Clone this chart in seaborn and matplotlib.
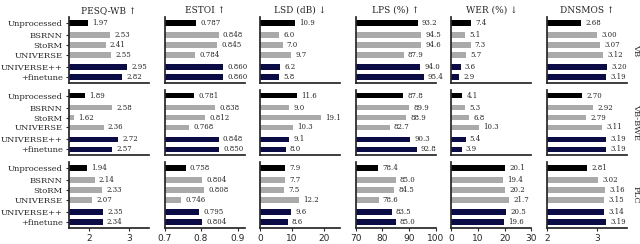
import matplotlib
matplotlib.use("Agg")
import matplotlib.pyplot as plt
import seaborn as sns
import pandas as pd

methods = ["Unprocessed", "BSRNN", "StoRM", "UNIVERSE", "UNIVERSE++", "+finetune"]
datasets = ["VB", "VB-BWE", "PLC"]
metrics = ["PESQ-WB ↑", "ESTOI ↑", "LSD (dB) ↓", "LPS (%) ↑", "WER (%) ↓", "DNSMOS ↑"]

pesq = {"VB": [1.97, 2.53, 2.41, 2.55, 2.95, 2.82],
        "VB-BWE": [1.89, 2.58, 1.62, 2.36, 2.72, 2.57],
        "PLC": [1.94, 2.14, 2.33, 2.07, 2.35, 2.34]}
estoi = {"VB": [0.787, 0.848, 0.845, 0.784, 0.860, 0.860],
         "VB-BWE": [0.781, 0.838, 0.812, 0.768, 0.848, 0.850],
         "PLC": [0.758, 0.804, 0.808, 0.746, 0.795, 0.804]}
lsd = {"VB": [10.9, 6.0, 7.0, 9.7, 6.2, 5.8],
       "VB-BWE": [11.6, 9.0, 19.1, 10.3, 9.1, 8.0],
       "PLC": [7.9, 7.7, 7.5, 12.2, 9.6, 8.6]}
lps = {"VB": [93.2, 94.5, 94.6, 87.9, 94.0, 95.4],
       "VB-BWE": [87.8, 89.9, 88.9, 82.7, 90.3, 92.8],
       "PLC": [78.4, 85.0, 84.5, 78.6, 83.5, 85.0]}
wer = {"VB": [7.4, 5.1, 7.3, 5.7, 3.6, 2.9],
       "VB-BWE": [4.1, 5.3, 6.8, 10.3, 5.4, 3.9],
       "PLC": [20.1, 19.4, 20.2, 21.7, 20.5, 19.6]}
dnsmos = {"VB": [2.68, 3.00, 3.07, 3.12, 3.20, 3.19],
          "VB-BWE": [2.70, 2.92, 2.79, 3.11, 3.19, 3.19],
          "PLC": [2.81, 3.02, 3.16, 3.15, 3.14, 3.19]}

all_values = [pesq, estoi, lsd, lps, wer, dnsmos]
fmts = ["{:.2f}", "{:.3f}", "{:.1f}", "{:.1f}", "{:.1f}", "{:.2f}"]
xlims = [(1.5, 3.5), (0.7, 0.92), (0, 25), (70, 100), (0, 30), (2, 3.6)]
xticks = [[2, 3], [0.7, 0.8, 0.9], [0, 10, 20], [70, 80, 90, 100], [0, 10, 20, 30], [2, 3]]

# gaps between groups of methods
positions = [0, 1.2, 2.2, 3.2, 4.4, 5.4]
palette = {"Unprocessed": "#000000", "BSRNN": "#aaaaaa", "StoRM": "#aaaaaa",
           "UNIVERSE": "#aaaaaa", "UNIVERSE++": "#0b0b45", "+finetune": "#0b0b45"}

rows = []
for metric, vals in zip(metrics, all_values):
    for ds in datasets:
        for m, p, v in zip(methods, positions, vals[ds]):
            rows.append({"metric": metric, "dataset": ds, "method": m, "pos": p, "value": v})
df = pd.DataFrame(rows)

sns.set_theme(style="ticks")
plt.rcParams["font.family"] = ["DejaVu Serif", "DejaVu Sans"]

fig, axes = plt.subplots(3, 6, figsize=(6.4, 2.44), dpi=100)
fig.subplots_adjust(left=69 / 640, right=627 / 640, top=1 - 17 / 244,
                    bottom=1 - 228 / 244, wspace=0.19, hspace=0.1)

for i, ds in enumerate(datasets):
    for j, metric in enumerate(metrics):
        ax = axes[i, j]
        sub = df[(df.metric == metric) & (df.dataset == ds)]
        sns.barplot(data=sub, x="value", y="pos", hue="method", palette=palette,
                    orient="h", native_scale=True, dodge=False, width=0.56,
                    saturation=1, legend=False, ax=ax, linewidth=0)
        for v, p in zip(sub.value, sub.pos):
            ax.annotate(fmts[j].format(v), xy=(v, p), xytext=(3, 0),
                        textcoords="offset points", va="center", ha="left",
                        fontsize=5)
        ax.set_xlim(*xlims[j])
        ax.set_ylim(6.0, -0.6)
        ax.set_xlabel("")
        ax.set_ylabel("")
        if j == 0:
            ax.set_yticks(positions)
            ax.set_yticklabels(methods, fontsize=6)
        else:
            ax.set_yticks([])
        if i == 2:
            ax.set_xticks(xticks[j])
            ax.set_xticklabels([str(t) for t in xticks[j]], fontsize=6.5,
                               family="DejaVu Sans")
        else:
            ax.set_xticks([])
        if i == 0:
            ax.set_title(metric, fontsize=6.5, pad=3)
        if j == 5:
            ax.text(1.06, 0.5, ds, transform=ax.transAxes, rotation=270,
                    ha="left", va="center", fontsize=6)
        ax.tick_params(length=2.5, width=0.8, pad=2)
        sns.despine(ax=ax)

fig.savefig("out.png", dpi=100)
